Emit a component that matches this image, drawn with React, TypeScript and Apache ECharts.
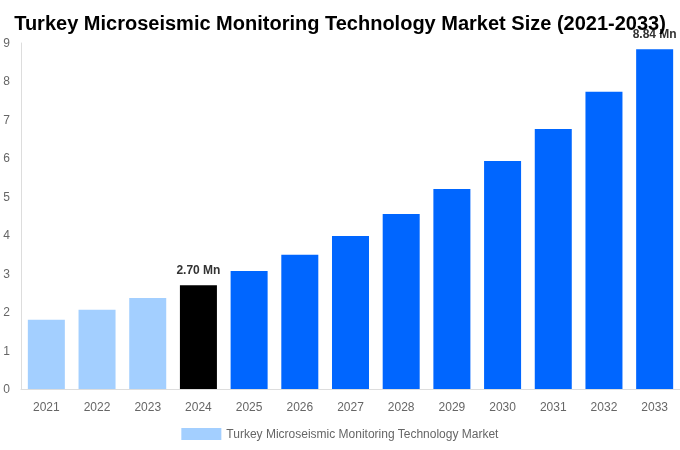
import React, { useEffect, useRef } from 'react';
import * as echarts from 'echarts';

const years = ['2021', '2022', '2023', '2024', '2025', '2026', '2027', '2028', '2029', '2030', '2031', '2032', '2033'];
const marketSize = [1.8, 2.06, 2.37, 2.7, 3.07, 3.49, 3.98, 4.55, 5.2, 5.93, 6.76, 7.73, 8.84];
// 0 = historic, 1 = base year, 2 = forecast
const periodKind = [0, 0, 0, 1, 2, 2, 2, 2, 2, 2, 2, 2, 2];
const periodColors = ['#a3cfff', '#000000', '#0066ff'];
const labelledYears = ['2024', '2033'];

const seriesName = 'Turkey Microseismic Monitoring Technology Market';

export default function App() {
  const chartRef = useRef<HTMLDivElement>(null);

  useEffect(() => {
    if (!chartRef.current) return;
    const chart = echarts.init(chartRef.current, undefined, { renderer: 'svg' });

    chart.setOption({
      animation: false,
      textStyle: { fontFamily: 'Liberation Sans, Arial, sans-serif' },
      title: {
        text: 'Turkey Microseismic Monitoring Technology Market Size (2021-2033)',
        left: 'center',
        top: 8,
        textStyle: { fontSize: 20, fontWeight: 'bold', color: '#000' }
      },
      legend: {
        bottom: 5,
        left: 'center',
        icon: 'rect',
        itemWidth: 40,
        itemHeight: 12,
        textStyle: { color: '#666', fontSize: 12 },
        data: [{ name: seriesName, itemStyle: { color: periodColors[0] } }]
      },
      grid: { left: 21, right: 0, top: 43, bottom: 61, containLabel: false },
      xAxis: {
        type: 'category',
        data: years,
        axisLine: { lineStyle: { color: '#ddd' } },
        axisTick: { show: false },
        axisLabel: { color: '#666', fontSize: 12, margin: 12 }
      },
      yAxis: {
        type: 'value',
        min: 0,
        max: 9,
        interval: 1,
        axisLine: { show: true, lineStyle: { color: '#ddd' } },
        splitLine: { show: false },
        axisLabel: { color: '#666', fontSize: 12, margin: 11 }
      },
      series: [{
        name: seriesName,
        type: 'bar',
        barCategoryGap: '27%',
        data: marketSize.map((v, i) => ({
          value: v,
          itemStyle: { color: periodColors[periodKind[i]] },
          label: {
            show: labelledYears.includes(years[i]),
            position: 'top',
            distance: 9,
            formatter: (p: any) => `${p.value.toFixed(2)} Mn`,
            color: '#333',
            fontWeight: 'bold',
            fontSize: 12
          }
        }))
      }]
    });

    return () => chart.dispose();
  }, []);

  return <div ref={chartRef} style={{ position: 'fixed', left: 0, top: 0, width: 680, height: 450 }}></div>;
}
